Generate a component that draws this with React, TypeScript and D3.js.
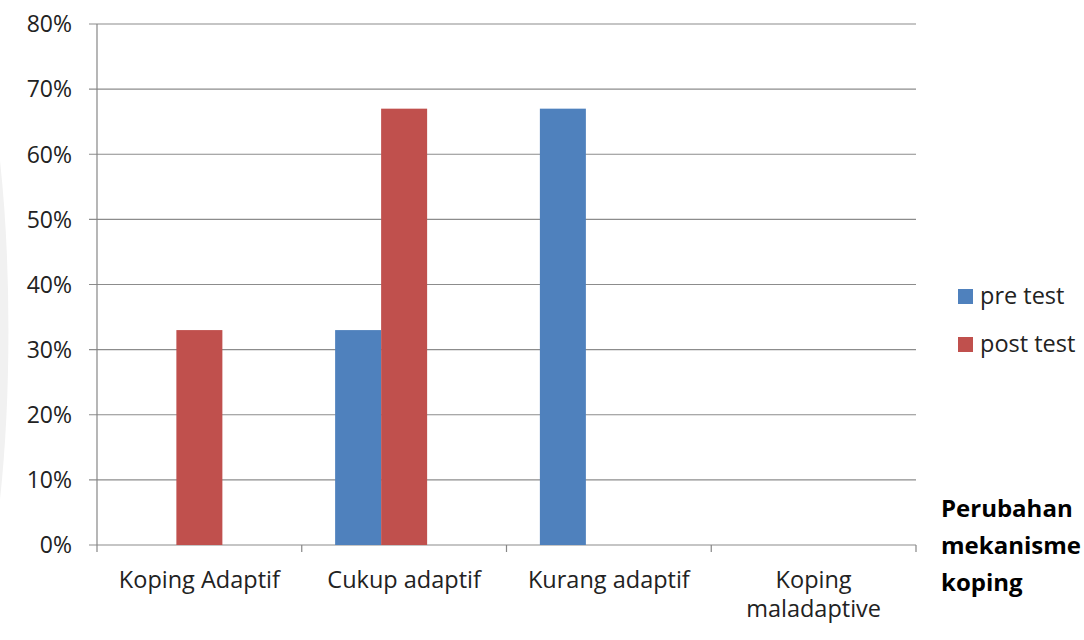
import React from "react";
import * as d3 from "d3";

// Categories of coping mechanism and the share of respondents in each
const categories = ["Koping Adaptif", "Cukup adaptif", "Kurang adaptif", "Koping maladaptive"];
const preTest = [0, 0.33, 0.67, 0];
const postTest = [0.33, 0.67, 0, 0];
const seriesNames = ["pre test", "post test"];
const seriesColors = ["#4F81BD", "#C0504D"];
const yTicks = [0, 0.1, 0.2, 0.3, 0.4, 0.5, 0.6, 0.7, 0.8];
const titleLines = ["Perubahan", "mekanisme", "koping"];

const W = 1084;
const H = 640;
const FONT = "'Open Sans', 'Noto Sans', sans-serif";
const FS = 23.5;

export default function App() {
  const x0 = 97;
  const x1 = 916;
  const yTop = 24;
  const yBottom = 545;

  const x = d3.scaleBand<string>().domain(categories).range([x0, x1]).paddingInner(0).paddingOuter(0);
  // three slots per category (the third is an empty series slot)
  const slot = d3
    .scaleBand<number>()
    .domain([0, 1, 2])
    .range([0, x.bandwidth()])
    .paddingInner(0)
    .paddingOuter(0.7255);
  const y = d3.scaleLinear().domain([0, 0.8]).range([yBottom, yTop]);
  const fmt = d3.format(".0%");
  const series = [preTest, postTest];

  const boundaries = [...categories.map((c) => x(c)!), x1];

  return (
    <svg width={W} height={H} style={{ position: "absolute", left: 0, top: 0, background: "#fff" }}>
      <rect x={0} y={0} width={W} height={H} fill="#fff" />
      {/* faint decorative arc at the left edge */}
      <path d={`M -40 20 A 60 330 0 0 1 -40 640`} fill="none" stroke="#f1f1f1" strokeWidth={18} />

      {/* horizontal gridlines */}
      {yTicks.map((t) => (
        <line key={"g" + t} x1={x0 - 8} x2={x1} y1={y(t)} y2={y(t)} stroke="#8c8c8c" strokeWidth={1.2} />
      ))}

      {/* y axis line */}
      <line x1={x0} x2={x0} y1={yTop} y2={yBottom} stroke="#868686" strokeWidth={1.2} />

      {/* y tick labels */}
      {yTicks.map((t) => (
        <text
          key={"yl" + t}
          x={72}
          y={y(t)}
          dy="0.36em"
          textAnchor="end"
          fontFamily={FONT}
          fontSize={FS - 0.5}
          fill="#222"
        >
          {fmt(t)}
        </text>
      ))}

      {/* bars */}
      {series.map((vals, si) =>
        categories.map((c, ci) =>
          vals[ci] > 0 ? (
            <rect
              key={`b${si}-${ci}`}
              x={x(c)! + slot(si)!}
              y={y(vals[ci])}
              width={slot.bandwidth()}
              height={y(0) - y(vals[ci])}
              fill={seriesColors[si]}
            />
          ) : null
        )
      )}

      {/* category boundary ticks */}
      {boundaries.map((b, i) => (
        <line key={"xt" + i} x1={b} x2={b} y1={yBottom} y2={yBottom + 7} stroke="#868686" strokeWidth={1.2} />
      ))}

      {/* x category labels */}
      {categories.map((c) => {
        const cx = x(c)! + x.bandwidth() / 2;
        const parts = c === "Koping maladaptive" ? ["Koping", "maladaptive"] : [c];
        return (
          <text key={"xl" + c} x={cx} textAnchor="middle" fontFamily={FONT} fontSize={FS} fill="#222">
            {parts.map((p, i) => (
              <tspan key={i} x={cx} y={588 + i * 29}>
                {p}
              </tspan>
            ))}
          </text>
        );
      })}

      {/* legend */}
      {seriesNames.map((s, i) => (
        <g key={"lg" + s} transform={`translate(958, ${296 + i * 48})`}>
          <rect x={0} y={-7} width={15} height={15} fill={seriesColors[i]} />
          <text x={22} y={0} dy="0.34em" fontFamily={FONT} fontSize={FS} fill="#222">
            {s}
          </text>
        </g>
      ))}

      {/* axis title */}
      <text fontFamily={FONT} fontSize={24} fontWeight="bold" fill="#000">
        {titleLines.map((l, i) => (
          <tspan key={i} x={941} y={517 + i * 37}>
            {l}
          </tspan>
        ))}
      </text>
    </svg>
  );
}
